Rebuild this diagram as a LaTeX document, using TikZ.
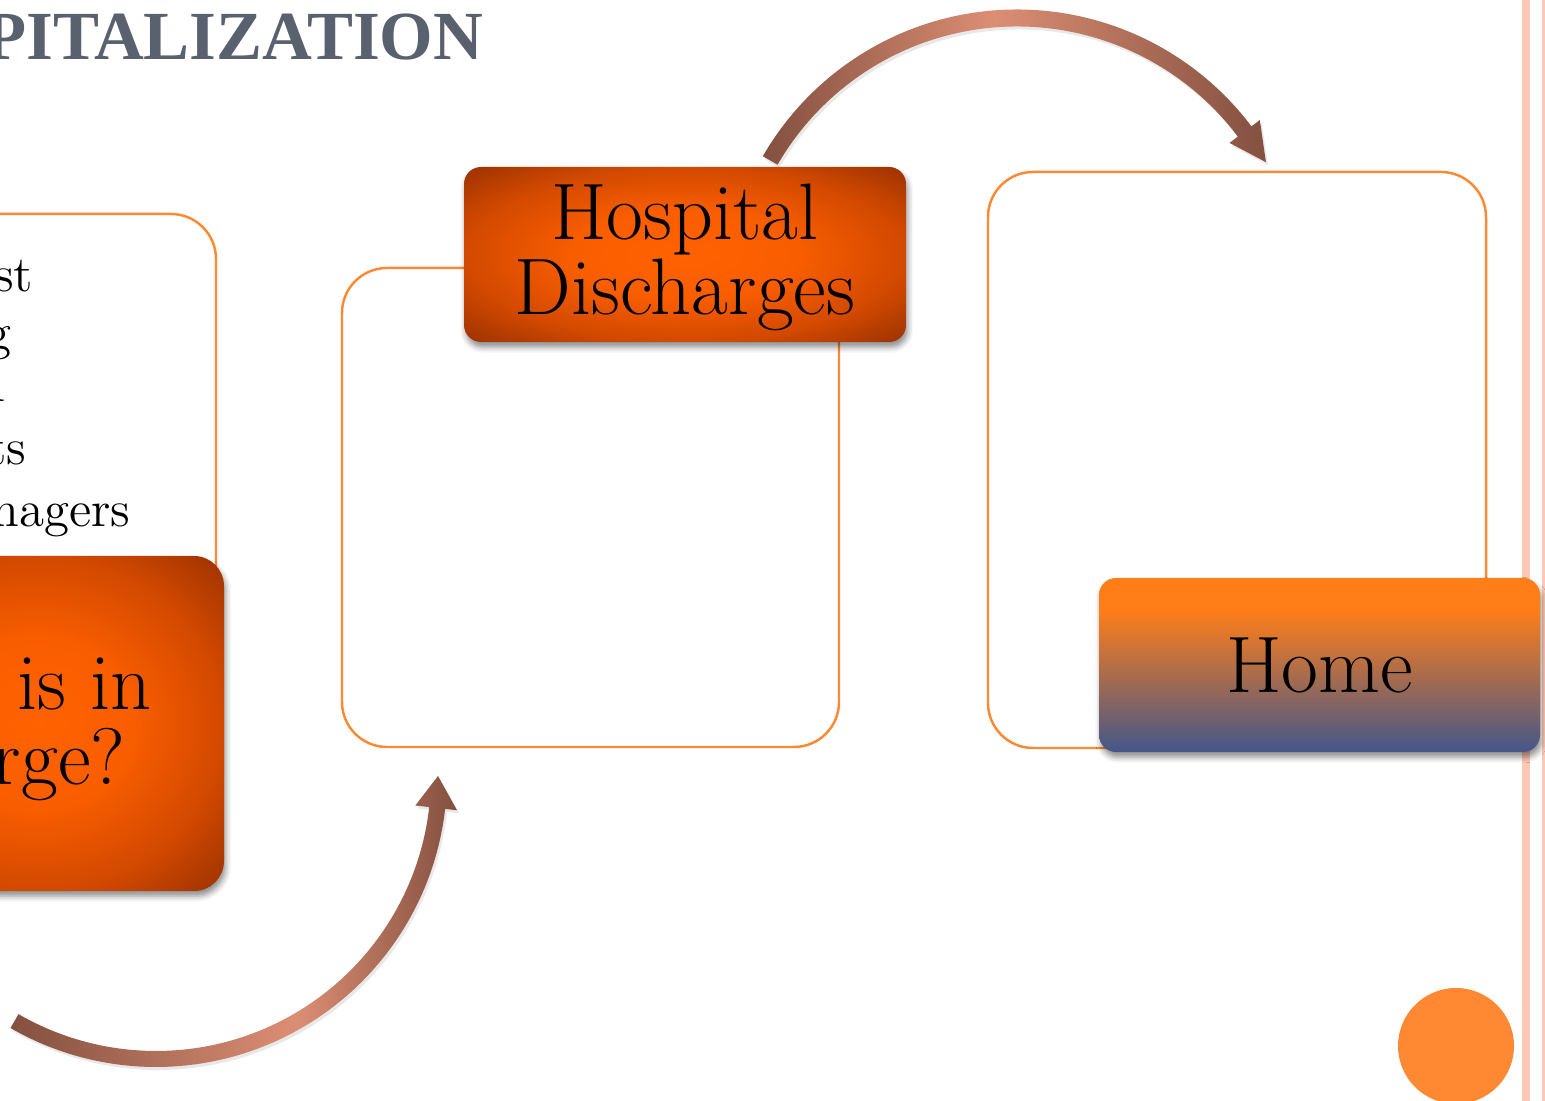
\documentclass[tikz,border=0pt]{standalone}
\usepackage{fontspec}
\newfontfamily\titlefont{Liberation Serif}
\usetikzlibrary{shadows,shadows.blur}

\definecolor{boxline}{HTML}{FF8833}
\definecolor{hot}{HTML}{FF6200}
\definecolor{hotmid}{HTML}{F85D00}
\definecolor{burnt}{HTML}{D24900}
\definecolor{burntdark}{HTML}{983000}
\definecolor{homeorange}{HTML}{FF7E18}
\definecolor{homeblue}{HTML}{44578A}
\definecolor{arrdark}{HTML}{83503F}
\definecolor{arrlight}{HTML}{DC8E74}
\definecolor{titlegray}{HTML}{59606E}
\definecolor{stripe}{HTML}{FFC8B4}

\pgfdeclareradialshading{burnglow}{\pgfpoint{0bp}{0bp}}{color(0bp)=(hot); color(13bp)=(hotmid); color(25bp)=(burnt); color(36bp)=(burntdark); color(50bp)=(burntdark)}
\pgfdeclareverticalshading{homefade}{100bp}{color(0bp)=(homeblue); color(25bp)=(homeblue); color(66bp)=(homeorange); color(100bp)=(homeorange)}
\pgfdeclarehorizontalshading{toparrow}{100bp}{color(0bp)=(arrdark); color(25bp)=(arrdark); color(48bp)=(arrlight); color(75bp)=(arrdark); color(100bp)=(arrdark)}
\pgfdeclarehorizontalshading{botarrow}{100bp}{color(0bp)=(arrdark); color(25bp)=(arrdark); color(57bp)=(arrlight); color(75bp)=(arrdark); color(100bp)=(arrdark)}

\begin{document}
\begin{tikzpicture}[
    framebox/.style={draw=boxline, line width=0.7pt, rounded corners=0.45cm},
    bigtext/.style={font=\fontsize{22.8}{21.3}\selectfont, text=black},
    tile/.style={shade, rounded corners=0.17cm, inner sep=0pt,
        blur shadow={shadow xshift=0.5pt, shadow yshift=-1.5pt, shadow blur radius=1.6pt, shadow opacity=45}},
    listtext/.style={font=\fontsize{14.5}{17}\selectfont, anchor=base east, inner sep=0pt},
    bigpart/.style={bigtext, anchor=base east, inner sep=0pt},
    bent/.style={drop shadow={opacity=0.18, shadow xshift=0.02, shadow yshift=-0.03}}
]
    \path[use as bounding box] (0,0) rectangle (15.45,11.01);
    \clip (0,0) rectangle (15.45,11.01);

    % margin stripes and corner dot
    \fill[stripe] (15.22,0) rectangle (15.30,11.01);
    \fill[stripe] (15.42,0) rectangle (15.48,11.01);
    \fill[boxline] (14.56,0.55) circle (0.58);

    % title, cut by the page edge
    \node[anchor=base east, inner sep=0pt, text=titlegray,
        font=\titlefont\bfseries\fontsize{19.6}{20}\selectfont] (title) at (4.84,10.41) {PITALIZATION};

    % empty frames
    \draw[framebox] (-1.00,2.40) rectangle (2.16,8.87);
    \draw[framebox] (3.42,3.54) rectangle (8.39,8.33);
    \draw[framebox] (9.88,3.53) rectangle (14.86,9.29);

    % list in the left frame
    \node[listtext] (l1) at (0.34,8.09) {st};
    \node[listtext] (l2) at (0.12,7.51) {g};
    \node[listtext] (l3) at (0.06,6.99) {n};
    \node[listtext] (l4) at (0.27,6.36) {ts};
    \node[listtext] (l5) at (1.31,5.74) {nagers};

    % the three tiles
    \node[tile, shading=burnglow, rounded corners=0.3cm, minimum width=3.74cm, minimum height=3.35cm] (charge) at (0.37,3.775) {};
    \node[bigpart] (c1) at (1.52,3.91) {is in};
    \node[bigpart] (c2) at (1.26,3.16) {rge?};

    \node[tile, shading=burnglow, minimum width=4.42cm, minimum height=1.75cm] (hosp) at (6.85,8.465) {};
    \node[bigtext, align=center, inner sep=0pt] (hosptext) at ([yshift=-0.03cm]hosp.center) {Hospital\\Discharges};

    \node[tile, shading=homefade, bigtext, minimum width=4.41cm, minimum height=1.74cm] (home) at (13.195,4.36) {Home};

    % bent arrows
    \coordinate (lowhub) at (1.56,3.25);
    \shade[shading=botarrow, bent] ([shift={(240:2.91)}]lowhub) arc[start angle=240, end angle=353.5, radius=2.91]
        -- ([shift={(353.5:3.03)}]lowhub) -- ([shift={(0:2.82)}]lowhub) -- ([shift={(353.5:2.61)}]lowhub)
        -- ([shift={(353.5:2.75)}]lowhub) arc[start angle=353.5, end angle=240, radius=2.75] -- cycle;

    \coordinate (tophub) at (10.17,7.98);
    \shade[shading=toparrow, bent] ([shift={(150:2.935)}]tophub) arc[start angle=150, end angle=37, radius=2.935]
        -- ([shift={(37:3.04)}]tophub) -- ([shift={(29.5:2.86)}]tophub) -- ([shift={(37:2.66)}]tophub)
        -- ([shift={(37:2.765)}]tophub) arc[start angle=37, end angle=150, radius=2.765] -- cycle;
\end{tikzpicture}
\end{document}
